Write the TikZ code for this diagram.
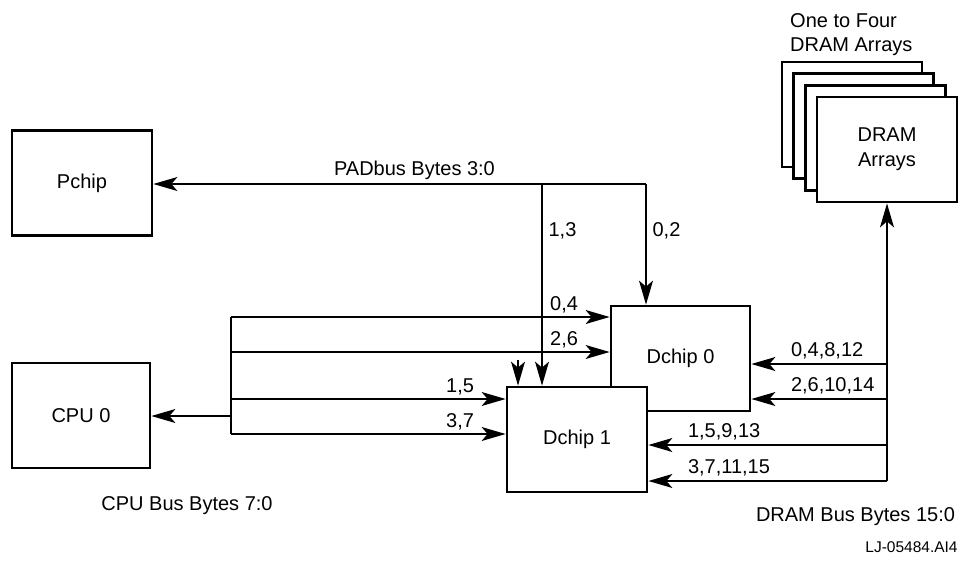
\documentclass[tikz,border=0pt]{standalone}
\usepackage{fontspec}
\setmainfont{Liberation Sans}
\usetikzlibrary{arrows.meta}

\tikzset{
  box/.style={draw, line width=2.8pt, fill=white, minimum width=140pt, minimum height=105pt, align=center, font=\fontsize{20}{25}\selectfont},
  bus/.style={line width=1.2pt},
  arr/.style={bus, -{Stealth[length=24pt, width=14pt, inset=6pt]}},
  lbl/.style={inner sep=0pt, font=\fontsize{20}{24}\selectfont}
}

\begin{document}
\begin{tikzpicture}[x=1pt, y=-1pt]
        \useasboundingbox (0,0) rectangle (962,566);
        % chips
        \node[box] (pchip) at (82,183) {Pchip};
        \node[box, minimum width=138pt] (cpu) at (81,415.5) {CPU 0};
        \node[box, minimum width=139pt] (dchip0) at (680.5,358.5) {Dchip 0};
        \node[box] (dchip1) at (577,439.5) {Dchip 1};
        \foreach \i in {0,1,2}
            \node[box] (dram\i) at (852+11.7*\i,114.5+11.7*\i) {};
        \node[box] (dram) at (887,149.5) {DRAM\\Arrays};
        \node[lbl, anchor=base west, align=left] (four) at (790,51) {One to Four\\DRAM Arrays};

        % PADbus
        \coordinate (padr) at (646,184);
        \coordinate (padm) at (542,184);
        \draw[arr] (padr) -- (padr -| pchip.east) node[lbl, anchor=base, pos=0.47, yshift=9pt] {PADbus Bytes 3:0};
        \draw[arr] (padr) -- (padr |- dchip0.north) node[lbl, anchor=west, pos=0.385, xshift=6pt] {0,2};
        \draw[arr] (padm) -- (padm |- dchip1.north) node[lbl, anchor=west, pos=0.23, xshift=6pt] {1,3};
        \coordinate (stub) at (518,360);
        \draw[arr] (stub) -- (stub |- dchip1.north);

        % CPU bus
        \coordinate (c04) at (231,317);
        \coordinate (c26) at (231,352);
        \coordinate (ccpu) at (231,416);
        \coordinate (c15) at (231,399);
        \coordinate (c37) at (231,434);
        \draw[bus] (c04) -- (c37);
        \draw[arr] (ccpu) -- (ccpu -| cpu.east);
        \draw[arr] (c04) -- (c04 -| dchip0.west) node[lbl, anchor=base east, xshift=-31pt, yshift=7pt] {0,4};
        \draw[arr] (c26) -- (c26 -| dchip0.west) node[lbl, anchor=base east, xshift=-31pt, yshift=7pt] {2,6};
        \draw[arr] (c15) -- (c15 -| dchip1.west) node[lbl, anchor=base east, xshift=-31pt, yshift=7pt] {1,5};
        \draw[arr] (c37) -- (c37 -| dchip1.west) node[lbl, anchor=base east, xshift=-31pt, yshift=7pt] {3,7};
        \node[lbl, anchor=base] (cpubus) at (187,510) {CPU Bus Bytes 7:0};

        % DRAM bus
        \coordinate (d0) at (887,364);
        \coordinate (d2) at (887,399);
        \coordinate (d1) at (887,445);
        \coordinate (d3) at (887,481);
        \draw[arr] (d3) -- (dram.south);
        \draw[arr] (d0) -- (d0 -| dchip0.east) node[lbl, anchor=base west, xshift=39pt, yshift=8pt] {0,4,8,12};
        \draw[arr] (d2) -- (d2 -| dchip0.east) node[lbl, anchor=base west, xshift=39pt, yshift=8pt] {2,6,10,14};
        \draw[arr] (d1) -- (d1 -| dchip1.east) node[lbl, anchor=base west, xshift=39pt, yshift=8pt] {1,5,9,13};
        \draw[arr] (d3) -- (d3 -| dchip1.east) node[lbl, anchor=base west, xshift=39pt, yshift=8pt] {3,7,11,15};
        \node[lbl, anchor=base] (drambus) at (855.5,521.5) {DRAM Bus Bytes 15:0};

        \node[lbl, anchor=base, font=\fontsize{15.5}{18}\selectfont] (tag) at (911.5,552) {LJ-05484.AI4};
    \end{tikzpicture}
\end{document}
